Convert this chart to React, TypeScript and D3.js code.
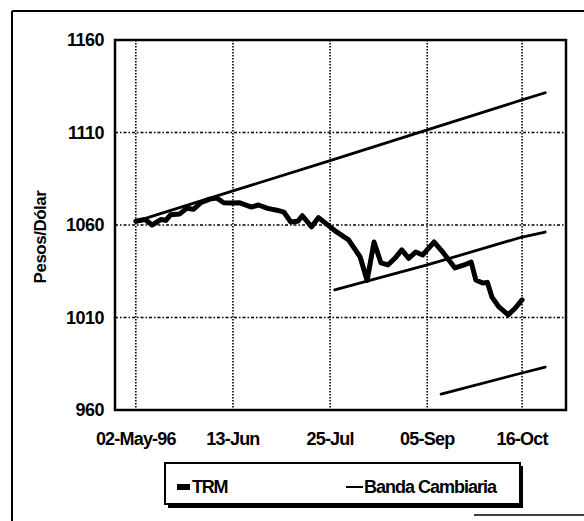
import React from 'react';
import * as d3 from 'd3';

// TRM (tasa representativa del mercado)
const trmDates = [
  '1996-05-02', '1996-05-06', '1996-05-09', '1996-05-13', '1996-05-15', '1996-05-17', '1996-05-21',
  '1996-05-24', '1996-05-27', '1996-05-30', '1996-06-03', '1996-06-06', '1996-06-09',
  '1996-06-12', '1996-06-16', '1996-06-21', '1996-06-24', '1996-06-28', '1996-07-02',
  '1996-07-05', '1996-07-08', '1996-07-11', '1996-07-13', '1996-07-17', '1996-07-20',
  '1996-07-27', '1996-08-02', '1996-08-07', '1996-08-10', '1996-08-13', '1996-08-16',
  '1996-08-19', '1996-08-22', '1996-08-25', '1996-08-28', '1996-08-31', '1996-09-03',
  '1996-09-08', '1996-09-12', '1996-09-17', '1996-09-21', '1996-09-24', '1996-09-26',
  '1996-09-29', '1996-10-01', '1996-10-03', '1996-10-06', '1996-10-10', '1996-10-13',
  '1996-10-15', '1996-10-16'
];
const trmValues = [
  1062, 1063, 1060, 1063, 1062.5, 1065.5, 1066,
  1069, 1068.5, 1072, 1074, 1074.6, 1072,
  1071.9, 1072, 1069.7, 1070.8, 1069, 1068,
  1067, 1061.6, 1062, 1065, 1059, 1064,
  1057, 1052, 1042.7, 1030, 1050.8, 1039.5,
  1038.4, 1042, 1046.5, 1042, 1045.4, 1043.8,
  1050.8, 1044.9, 1036.8, 1038.4, 1040, 1030.3,
  1028.6, 1029, 1021, 1015.7, 1011.4, 1015,
  1018, 1019.5
];

// Banda cambiaria (three segments)
const bandUpperDates = ['1996-05-02', '1996-06-13', '1996-07-25', '1996-09-05', '1996-10-16', '1996-10-26'];
const bandUpperValues = [1062, 1078.4, 1094.8, 1111.4, 1127.6, 1131.5];
const bandMidDates = ['1996-07-27', '1996-09-05', '1996-10-16', '1996-10-26'];
const bandMidValues = [1024.9, 1038.4, 1053.5, 1056.2];
const bandLowDates = ['1996-09-11', '1996-10-16', '1996-10-26'];
const bandLowValues = [968.6, 980, 983.2];

const xTickDates = ['1996-05-02', '1996-06-13', '1996-07-25', '1996-09-05', '1996-10-16'];
const xTickLabels = ['02-May-96', '13-Jun', '25-Jul', '05-Sep', '16-Oct'];
const yTicks = [960, 1010, 1060, 1110, 1160];

const parse = d3.timeParse('%Y-%m-%d');
const font = 'Arial, "Liberation Sans", sans-serif';

export default function App() {
  const width = 584;
  const height = 521;
  const plot = { left: 115, right: 566, top: 40, bottom: 410 };

  const x = d3.scaleTime()
    .domain([parse('1996-04-23') as Date, parse('1996-11-04') as Date])
    .range([plot.left, plot.right]);
  const y = d3.scaleLinear().domain([960, 1160]).range([plot.bottom, plot.top]);

  const line = d3.line<[Date, number]>()
    .x(d => x(d[0]))
    .y(d => y(d[1]));

  const zip = (ds: string[], vs: number[]) =>
    ds.map((d, i) => [parse(d) as Date, vs[i]] as [Date, number]);

  const bands = [
    zip(bandUpperDates, bandUpperValues),
    zip(bandMidDates, bandMidValues),
    zip(bandLowDates, bandLowValues),
  ];
  const trm = zip(trmDates, trmValues);

  return (
    <svg width={width} height={height}
      style={{ position: 'absolute', left: 0, top: 0, background: '#fff' }}>
      {/* outer frame */}
      <line x1={12} y1={11} x2={584} y2={11} stroke="#000" strokeWidth={2} />
      <line x1={12} y1={11} x2={12} y2={521} stroke="#000" strokeWidth={2} />
      <line x1={474} y1={515} x2={584} y2={515} stroke="#000" strokeWidth={1.5} />

      {/* grid */}
      {yTicks.slice(1, -1).map(t => (
        <line key={t} x1={plot.left} x2={plot.right} y1={y(t)} y2={y(t)}
          stroke="#000" strokeWidth={1.6} strokeDasharray="3,2,1.5,2" />
      ))}
      {xTickDates.map(d => (
        <line key={d} x1={x(parse(d) as Date)} x2={x(parse(d) as Date)} y1={plot.top} y2={plot.bottom}
          stroke="#000" strokeWidth={1.6} strokeDasharray="1.5,1.5" />
      ))}

      {/* series */}
      {bands.map((b, i) => (
        <path key={i} d={line(b) || ''} fill="none" stroke="#000" strokeWidth={2.8}
          strokeLinejoin="round" strokeLinecap="round" />
      ))}
      <path d={line(trm) || ''} fill="none" stroke="#000" strokeWidth={5}
        strokeLinejoin="round" strokeLinecap="round" />

      {/* plot frame */}
      <rect x={plot.left} y={plot.top} width={plot.right - plot.left} height={plot.bottom - plot.top}
        fill="none" stroke="#000" strokeWidth={2.5} />

      {/* y axis labels */}
      {yTicks.map(t => (
        <text key={t} x={104} y={y(t) + 6} textAnchor="end" fontFamily={font}
          fontWeight="bold" fontSize={18} letterSpacing={-0.5}>{t}</text>
      ))}
      <text transform="translate(46,237) rotate(-90)" textAnchor="middle" fontFamily={font}
        fontWeight="bold" fontSize={17} letterSpacing={-0.5}>Pesos/Dólar</text>

      {/* x axis labels */}
      {xTickDates.map((d, i) => (
        <text key={d} x={x(parse(d) as Date)} y={445} textAnchor="middle" fontFamily={font}
          fontWeight="bold" fontSize={18} letterSpacing={-0.8}>{xTickLabels[i]}</text>
      ))}

      {/* legend */}
      <rect x={168} y={466} width={355} height={42} fill="#000" />
      <rect x={165} y={463} width={355} height={41} fill="#fff" stroke="#000" strokeWidth={2} />
      <rect x={177} y={484} width={13} height={6} fill="#000" />
      <text x={192} y={493} fontFamily={font} fontWeight="bold" fontSize={18} letterSpacing={-1.2}>TRM</text>
      <line x1={346} x2={363} y1={487} y2={487} stroke="#000" strokeWidth={2} />
      <text x={364} y={493} fontFamily={font} fontWeight="bold" fontSize={18} letterSpacing={-1}>Banda Cambiaria</text>
    </svg>
  );
}
